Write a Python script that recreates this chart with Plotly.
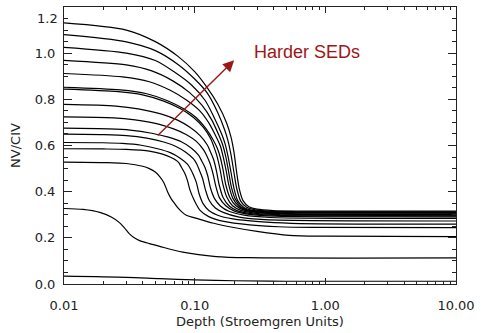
import math
import plotly.graph_objects as go

# NV/CIV ratio versus depth into the cloud, one curve per ionizing SED.
# Each curve is listed as (depth, ratio) samples.
depth_01 = [0.01, 0.03, 0.05, 0.075, 0.1, 0.125, 0.15, 0.175, 0.19, 0.2, 0.21, 0.22, 0.235, 0.26, 0.3, 0.4, 0.6, 10]
ratio_01 = [1.131, 1.100, 1.050, 0.985, 0.920, 0.850, 0.780, 0.700, 0.635, 0.570, 0.480, 0.410, 0.360, 0.335, 0.324, 0.318, 0.316, 0.316]

depth_02 = [0.01, 0.03, 0.05, 0.075, 0.1, 0.125, 0.15, 0.17, 0.18, 0.19, 0.2, 0.21, 0.225, 0.25, 0.29, 0.38, 0.6, 10]
ratio_02 = [1.080, 1.049, 1.011, 0.950, 0.888, 0.827, 0.743, 0.666, 0.620, 0.558, 0.482, 0.413, 0.359, 0.332, 0.321, 0.315, 0.313, 0.313]

depth_03 = [0.01, 0.03, 0.05, 0.07, 0.095, 0.12, 0.14, 0.16, 0.171, 0.18, 0.19, 0.2, 0.214, 0.238, 0.275, 0.36, 0.57, 10]
ratio_03 = [1.025, 1.000, 0.968, 0.918, 0.861, 0.796, 0.725, 0.653, 0.607, 0.553, 0.482, 0.414, 0.360, 0.331, 0.319, 0.313, 0.310, 0.310]

depth_04 = [0.01, 0.03, 0.047, 0.068, 0.091, 0.114, 0.135, 0.153, 0.164, 0.173, 0.182, 0.191, 0.205, 0.228, 0.264, 0.346, 0.55, 10]
ratio_04 = [0.969, 0.949, 0.923, 0.880, 0.830, 0.774, 0.711, 0.645, 0.602, 0.552, 0.486, 0.420, 0.367, 0.333, 0.319, 0.311, 0.308, 0.307]

depth_05 = [0.01, 0.028, 0.045, 0.065, 0.087, 0.109, 0.129, 0.146, 0.157, 0.165, 0.174, 0.183, 0.196, 0.218, 0.252, 0.33, 0.52, 10]
ratio_05 = [0.912, 0.897, 0.876, 0.839, 0.796, 0.751, 0.696, 0.638, 0.599, 0.553, 0.492, 0.426, 0.371, 0.337, 0.319, 0.309, 0.305, 0.304]

depth_06 = [0.01, 0.027, 0.043, 0.062, 0.083, 0.103, 0.122, 0.139, 0.149, 0.157, 0.165, 0.173, 0.186, 0.206, 0.239, 0.314, 0.5, 10]
ratio_06 = [0.852, 0.841, 0.824, 0.794, 0.758, 0.720, 0.673, 0.623, 0.588, 0.549, 0.494, 0.430, 0.375, 0.340, 0.320, 0.309, 0.303, 0.301]

depth_07 = [0.01, 0.026, 0.04, 0.058, 0.078, 0.098, 0.117, 0.133, 0.14, 0.148, 0.156, 0.164, 0.176, 0.195, 0.226, 0.296, 0.47, 10]
ratio_07 = [0.844, 0.833, 0.819, 0.792, 0.759, 0.721, 0.677, 0.628, 0.596, 0.555, 0.500, 0.435, 0.377, 0.339, 0.319, 0.306, 0.300, 0.298]

depth_08 = [0.01, 0.025, 0.037, 0.055, 0.074, 0.092, 0.11, 0.125, 0.132, 0.14, 0.147, 0.154, 0.165, 0.184, 0.213, 0.279, 0.44, 10]
ratio_08 = [0.778, 0.771, 0.759, 0.737, 0.710, 0.679, 0.643, 0.602, 0.573, 0.537, 0.488, 0.430, 0.375, 0.338, 0.317, 0.304, 0.297, 0.295]

depth_09 = [0.01, 0.024, 0.035, 0.052, 0.069, 0.086, 0.103, 0.117, 0.124, 0.131, 0.138, 0.145, 0.155, 0.173, 0.2, 0.262, 0.414, 10]
ratio_09 = [0.724, 0.720, 0.711, 0.694, 0.672, 0.648, 0.618, 0.581, 0.555, 0.523, 0.479, 0.425, 0.373, 0.339, 0.317, 0.302, 0.294, 0.291]

depth_10 = [0.01, 0.022, 0.032, 0.047, 0.063, 0.079, 0.094, 0.107, 0.113, 0.12, 0.126, 0.132, 0.142, 0.158, 0.183, 0.239, 0.38, 10]
ratio_10 = [0.675, 0.672, 0.667, 0.653, 0.636, 0.616, 0.589, 0.558, 0.534, 0.505, 0.468, 0.417, 0.370, 0.337, 0.315, 0.298, 0.288, 0.284]

depth_11 = [0.01, 0.02, 0.03, 0.043, 0.058, 0.072, 0.086, 0.098, 0.104, 0.109, 0.115, 0.121, 0.129, 0.144, 0.167, 0.219, 0.345, 10]
ratio_11 = [0.649, 0.647, 0.643, 0.632, 0.615, 0.596, 0.570, 0.542, 0.519, 0.491, 0.457, 0.408, 0.363, 0.329, 0.309, 0.290, 0.279, 0.273]

depth_12 = [0.01, 0.02, 0.028, 0.039, 0.052, 0.065, 0.077, 0.088, 0.093, 0.098, 0.103, 0.108, 0.116, 0.129, 0.15, 0.196, 0.31, 0.55, 10]
ratio_12 = [0.613, 0.612, 0.609, 0.601, 0.586, 0.569, 0.546, 0.519, 0.498, 0.471, 0.440, 0.392, 0.348, 0.317, 0.298, 0.282, 0.270, 0.263, 0.259]

depth_13 = [0.01, 0.02, 0.03, 0.045, 0.056, 0.066, 0.075, 0.079, 0.084, 0.088, 0.092, 0.099, 0.11, 0.128, 0.167, 0.264, 0.44, 0.8, 10]
ratio_13 = [0.586, 0.585, 0.583, 0.576, 0.564, 0.548, 0.528, 0.507, 0.480, 0.449, 0.408, 0.364, 0.319, 0.292, 0.271, 0.256, 0.248, 0.245, 0.244]

depth_14 = [0.01, 0.02, 0.03, 0.04, 0.045, 0.05, 0.054, 0.058, 0.062, 0.066, 0.071, 0.076, 0.085, 0.108, 0.14, 0.194, 0.3, 0.528, 1.0, 10]
ratio_14 = [0.528, 0.526, 0.522, 0.510, 0.500, 0.485, 0.465, 0.440, 0.400, 0.370, 0.345, 0.324, 0.300, 0.281, 0.263, 0.246, 0.228, 0.211, 0.207, 0.205]

depth_15 = [0.01, 0.014, 0.0188, 0.023, 0.0267, 0.029, 0.0318, 0.035, 0.0379, 0.045, 0.054, 0.081, 0.146, 0.26, 10]
ratio_15 = [0.327, 0.323, 0.310, 0.290, 0.265, 0.243, 0.216, 0.198, 0.188, 0.175, 0.163, 0.138, 0.119, 0.114, 0.113]

depth_16 = [0.01, 0.03, 0.054, 0.1, 0.2, 0.5, 10]
ratio_16 = [0.034, 0.029, 0.023, 0.018, 0.014, 0.012, 0.012]

curves = [
    (depth_01, ratio_01), (depth_02, ratio_02), (depth_03, ratio_03), (depth_04, ratio_04),
    (depth_05, ratio_05), (depth_06, ratio_06), (depth_07, ratio_07), (depth_08, ratio_08),
    (depth_09, ratio_09), (depth_10, ratio_10), (depth_11, ratio_11), (depth_12, ratio_12),
    (depth_13, ratio_13), (depth_14, ratio_14), (depth_15, ratio_15), (depth_16, ratio_16),
]

x_tick_vals = [0.01, 0.1, 1, 10]
x_tick_text = ["0.01", "0.10", "1.00", "10.00"]
x_minor_vals = [0.02, 0.03, 0.04, 0.05, 0.06, 0.07, 0.08, 0.09,
                0.2, 0.3, 0.4, 0.5, 0.6, 0.7, 0.8, 0.9,
                2, 3, 4, 5, 6, 7, 8, 9]
y_tick_vals = [0.0, 0.2, 0.4, 0.6, 0.8, 1.0, 1.2]
y_tick_text = ["0.0", "0.2", "0.4", "0.6", "0.8", "1.0", ""]
y_top_label = "1.2"
y_minor_vals = [0.05, 0.1, 0.15, 0.25, 0.3, 0.35, 0.45, 0.5, 0.55, 0.65, 0.7, 0.75,
                0.85, 0.9, 0.95, 1.05, 1.1, 1.15]

arrow_tail = (0.0508, 0.637)
arrow_tip = (0.2006, 0.969)
arrow_label = "Harder SEDs"
label_pos = (0.721, 1.003)

fig = go.Figure()
for xs, ys in curves:
    fig.add_trace(go.Scatter(
        x=xs, y=ys, mode="lines",
        line=dict(color="black", width=1.2, shape="spline", smoothing=0.8),
        showlegend=False, hoverinfo="skip",
    ))

dark_red = "#9e1515"
fig.add_annotation(
    x=math.log10(arrow_tip[0]), y=arrow_tip[1],
    ax=math.log10(arrow_tail[0]), ay=arrow_tail[1],
    xref="x", yref="y", axref="x", ayref="y",
    text="", showarrow=True, arrowhead=2, arrowsize=1.6,
    arrowwidth=1.4, arrowcolor=dark_red,
)
fig.add_annotation(
    x=math.log10(label_pos[0]), y=label_pos[1], xref="x", yref="y",
    text=arrow_label, showarrow=False,
    font=dict(family="Liberation Sans, Arial", size=18, color=dark_red),
)

axis_font = dict(family="DejaVu Sans", size=13, color="#222222")

# top y label sits just inside the frame, below the top edge
fig.add_annotation(
    x=0, y=1.2, xref="paper", yref="y",
    xanchor="right", yanchor="top", xshift=-4, yshift=-2,
    text=y_top_label, showarrow=False, font=axis_font,
)

fig.update_xaxes(
    type="log", range=[-2, 1],
    tickvals=x_tick_vals, ticktext=x_tick_text,
    ticks="inside", ticklen=6, tickwidth=1, tickcolor="#222222",
    minor=dict(tickvals=x_minor_vals, ticks="inside", ticklen=3, tickcolor="#222222", showgrid=False),
    showline=True, linecolor="#222222", linewidth=1, mirror="allticks",
    showgrid=False, zeroline=False,
    tickfont=axis_font, ticklabelstandoff=9,
    title=dict(text="Depth (Stroemgren Units)", font=axis_font, standoff=5),
)
fig.update_yaxes(
    range=[0, 1.2], tickvals=y_tick_vals, ticktext=y_tick_text,
    ticks="inside", ticklen=8, tickwidth=1, tickcolor="#222222",
    minor=dict(tickvals=y_minor_vals, ticks="inside", ticklen=4, tickcolor="#222222", showgrid=False),
    showline=True, linecolor="#222222", linewidth=1, mirror="allticks",
    showgrid=False, zeroline=False,
    tickfont=axis_font, ticklabelstandoff=5,
    title=dict(text="NV/CIV", font=axis_font, standoff=11),
)
fig.update_layout(
    width=481, height=333,
    margin=dict(l=64, r=23, t=6, b=48),
    plot_bgcolor="white", paper_bgcolor="white",
)
fig.write_html("out.html")
